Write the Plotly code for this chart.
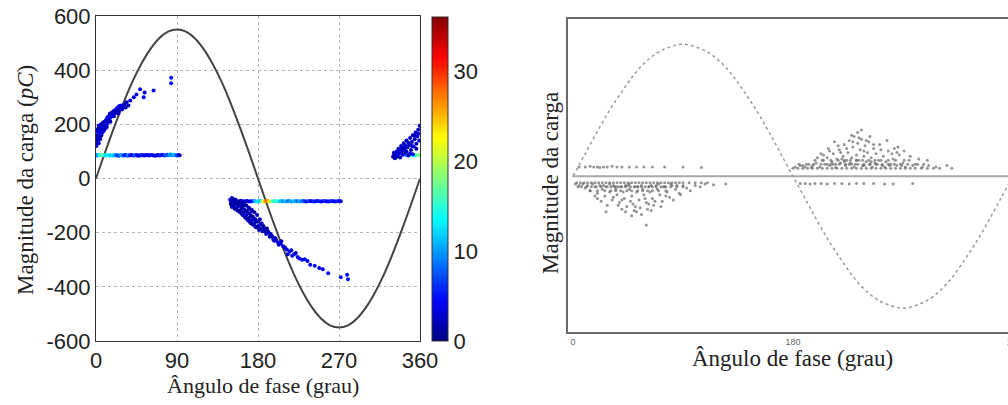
import plotly.graph_objects as go

W, H = 1008, 405

# ---------------- Left panel data (phase in degrees, charge in pC, count) ----------------
sine_phase = [0, 10, 20, 30, 40, 50, 60, 70, 80, 90, 100, 110, 120, 130, 140, 150, 160, 170, 180,
              190, 200, 210, 220, 230, 240, 250, 260, 270, 280, 290, 300, 310, 320, 330, 340, 350, 360]
sine_pc = [0, 96, 188, 275, 354, 421, 476, 517, 542, 550, 542, 517, 476, 421, 354, 275, 188, 96, 0,
           -96, -188, -275, -354, -421, -476, -517, -542, -550, -542, -517, -476, -421, -354, -275, -188, -96, 0]

# positive diagonal cluster (near 0-90 deg)
posdiag_phase = [0.5, 1, 1.5, 2, 2.5, 3, 3, 4, 4.5, 5, 5.5, 6, 6.5, 7, 7.5, 8, 8.5, 9, 10, 10.5, 11, 12, 12.5, 13,
                 14, 15, 15.5, 16, 17, 18, 19, 20, 21, 22, 23, 24, 25, 26, 27, 28, 30, 32, 34, 36, 38, 42, 45,
                 49, 53, 54, 64, 83.5, 83.5, 1, 2, 4, 6, 9, 11, 14,
                 0.5, 1, 2, 3, 5, 7, 9, 12, 16, 20, 25, 29, 33]
posdiag_pc = [140, 160, 175, 150, 185, 130, 195, 165, 145, 178, 200, 160, 185, 170, 205, 190, 175, 210, 195, 185,
              215, 200, 225, 210, 230, 215, 240, 225, 235, 245, 230, 250, 240, 255, 245, 262, 250, 268, 258, 270,
              265, 275, 282, 270, 288, 300, 310, 330, 300, 318, 325, 372, 352, 180, 135, 185, 175, 182, 198, 212,
              120, 128, 140, 170, 155, 190, 180, 190, 210, 230, 240, 255, 262]
posdiag_cnt = [3, 2, 4, 3, 2, 3, 2, 4, 3, 2, 3, 4, 2, 3, 2, 3, 4, 2, 3, 2, 3, 2, 4, 3, 2, 3, 2, 4, 3, 2, 3, 2, 3,
               4, 2, 3, 2, 3, 2, 4, 3, 2, 3, 2, 3, 4, 3, 4, 4, 3, 4, 5, 5, 2, 3, 2, 3, 2, 3, 2,
               2, 3, 2, 3, 2, 3, 2, 3, 2, 3, 2, 3, 2]

# positive horizontal band (~86 pC)
posband_phase = [0, 1.5, 3, 4.5, 6, 7.5, 9, 10.5, 12, 13.5, 15, 16.5, 18, 19.5, 21, 22.5, 24, 25.5, 27, 28.5,
                 30, 31.5, 33, 34.5, 36, 37.5, 39, 40.5, 42, 43.5, 45, 46.5, 48, 49.5, 51, 52.5, 54, 55.5, 57,
                 58.5, 60, 61.5, 63, 64.5, 66, 67.5, 69, 70.5, 72, 73.5, 75, 76.5, 78, 79.5, 81, 82.5, 84, 85.5,
                 87, 88.5, 90, 91.5, 93]
posband_pc = [86, 85, 87, 86, 85, 87, 86, 85, 86, 87, 85, 86, 84, 86, 87, 85, 86, 84, 86, 87,
              85, 86, 87, 84, 86, 85, 87, 86, 85, 86, 87, 84, 86, 85, 87, 86, 85, 86, 87,
              85, 86, 87, 86, 85, 84, 86, 87, 85, 86, 88, 86, 85, 87, 88, 86, 90, 87, 86,
              88, 86, 85, 87, 86]
posband_cnt = [6, 9, 12, 14, 16, 18, 15, 13, 12, 14, 13, 11, 13, 12, 10, 8, 7, 6, 9, 11,
               8, 6, 5, 7, 9, 6, 5, 4, 6, 8, 5, 4, 3, 5, 6, 4, 3, 4, 5, 3,
               4, 6, 4, 3, 5, 4, 3, 5, 6, 4, 5, 7, 8, 6, 9, 11, 8, 10, 12, 9,
               7, 5, 2]

# cluster at the end of the cycle (330-360 deg)
endclus_phase = [330, 331, 332, 333, 334, 335, 336, 337, 338, 339, 340, 341, 342, 343, 344, 345, 346, 347, 348,
                 349, 350, 351, 352, 353, 354, 355, 356, 357, 358, 359, 359.5, 352, 345, 338, 356, 349, 333, 342,
                 331, 336, 340, 344, 347, 351, 354, 358]
endclus_pc = [80, 95, 75, 88, 100, 82, 110, 92, 78, 120, 100, 88, 130, 108, 95, 140, 115, 85, 125,
              150, 105, 135, 160, 118, 145, 170, 128, 155, 180, 140, 195, 90, 100, 105, 110, 92, 78, 115,
              85, 98, 112, 120, 132, 120, 158, 165]
endclus_cnt = [2, 3, 2, 3, 2, 3, 2, 3, 2, 3, 2, 3, 2, 3, 2, 3, 2, 3, 2,
               3, 2, 3, 2, 3, 2, 3, 2, 3, 2, 3, 2, 3, 2, 3, 2, 3, 2, 3,
               2, 3, 2, 3, 2, 3, 2, 3]

endband_phase = [345, 347, 349, 351, 353, 355, 357, 359]
endband_pc = [86, 85, 87, 86, 85, 86, 87, 86]
endband_cnt = [10, 12, 14, 16, 15, 13, 17, 18]

# negative horizontal band (~-84 pC)
negband_phase = [150, 152, 154, 156, 158, 160, 162, 164, 166, 168, 170, 172, 174, 176, 178, 180, 182, 184,
                 186, 188, 190, 192, 194, 196, 198, 200, 202, 204, 206, 208, 210, 212, 214, 216, 218, 220,
                 222, 224, 226, 228, 230, 232, 234, 236, 238, 240, 242, 244, 246, 248, 250, 252, 254, 256,
                 258, 260, 262, 264, 266, 268, 270, 272]
negband_pc = [-84, -85, -83, -84, -86, -84, -83, -85, -84, -83, -85, -84, -84, -83, -85, -84, -83, -84,
              -85, -84, -83, -84, -85, -84, -83, -84, -85, -84, -83, -84, -85, -84, -83, -84, -85, -84,
              -83, -84, -85, -84, -83, -84, -85, -84, -83, -84, -85, -84, -83, -84, -85, -84, -83, -84,
              -85, -84, -83, -84, -85, -84, -83, -84]
negband_cnt = [3, 2, 4, 3, 2, 3, 4, 3, 2, 3, 4, 3, 5, 10, 12, 13, 11, 16,
               22, 26, 28, 24, 20, 17, 15, 14, 16, 12, 11, 9, 12, 10, 8, 11, 9, 12,
               10, 8, 11, 9, 8, 6, 5, 7, 5, 4, 6, 5, 4, 6, 5, 4, 6, 5,
               4, 5, 6, 4, 5, 6, 4, 3]

# negative diagonal cluster
negdiag_phase = [149, 150, 151, 152, 153, 154, 155, 156, 157, 158, 159, 160, 161, 162, 163, 164, 165, 166, 167,
                 168, 169, 170, 171, 172, 173, 174, 175, 176, 177, 178, 180, 181, 183, 185, 187, 189, 191, 193,
                 195, 197, 199, 202, 205, 208, 212, 215, 218, 220, 224, 229, 232, 238, 243, 258, 272, 279, 280,
                 152, 155, 158, 161, 164, 167, 170, 173,
                 150, 151, 152, 153, 154, 155, 156, 157, 158, 159, 160, 161, 162, 163, 164, 165, 166, 167, 168,
                 169, 170, 171, 172, 173, 174, 175, 176, 177, 178, 179, 180, 182, 183, 184, 186, 188, 190, 192,
                 194, 196, 198, 200, 203, 206, 210, 213, 217, 222, 226, 235, 248, 252]
negdiag_pc = [-78, -90, -72, -85, -100, -80, -95, -110, -88, -102, -120, -98, -115, -130, -105, -125, -140, -118,
              -135, -150, -128, -145, -160, -138, -155, -170, -148, -165, -178, -158, -175, -190, -170, -195,
              -185, -205, -195, -215, -210, -225, -220, -235, -240, -250, -262, -270, -285, -280, -290, -300,
              -298, -318, -322, -350, -365, -355, -372, -75, -78, -90, -82, -95, -100, -112, -120,
              -95, -105, -78, -88, -112, -80, -92, -118, -85, -100, -125, -90, -108, -135, -95, -115, -145,
              -100, -122, -155, -108, -130, -165, -115, -140, -170, -125, -150, -180, -135, -160, -150, -185,
              -165, -175, -195, -185, -200, -205, -215, -230, -225, -245, -232, -255, -280, -265, -275, -295,
              -305, -330, -335]
negdiag_cnt = [3, 2, 3, 2, 3, 2, 3, 2, 3, 2, 3, 2, 3, 2, 3, 2, 3, 2, 3, 2, 3, 2, 3, 2, 3, 2, 3, 2, 3, 2,
               3, 2, 3, 2, 3, 2, 3, 2, 3, 4, 3, 4, 3, 4, 4, 3, 4, 4, 4, 4, 5, 4, 5, 5, 5, 5, 5,
               2, 3, 2, 3, 2, 3, 2, 3,
               1, 2, 1, 2, 1, 2, 1, 2, 1, 2, 1, 2, 1, 2, 1, 2, 1, 2, 1, 2, 1, 2, 1, 2, 1, 2, 1, 2, 1, 2,
               1, 2, 1, 2, 1, 2, 1, 2, 3, 2, 3, 2, 3, 3, 3, 3, 4, 3, 4, 4, 4, 4]

# ---------------- Right panel data (phase in degrees, relative magnitude) ----------------
rsine_phase = sine_phase
rsine_val = [0, 0.17, 0.34, 0.5, 0.64, 0.77, 0.87, 0.94, 0.98, 1.0, 0.98, 0.94, 0.87, 0.77, 0.64, 0.5, 0.34,
             0.17, 0, -0.17, -0.34, -0.5, -0.64, -0.77, -0.87, -0.94, -0.98, -1.0, -0.98, -0.94, -0.87, -0.77,
             -0.64, -0.5, -0.34, -0.17, 0]

rpos_phase = [182, 186, 190, 193, 196, 199, 202, 204, 206, 208, 210, 212, 213, 215, 216, 218, 219, 221, 222, 223,
              224, 225, 226, 227, 228, 229, 230, 231, 232, 233, 234, 235, 236, 237, 238, 239, 240, 241, 242,
              243, 244, 246, 247, 248, 250, 251, 253, 254, 256, 258, 260, 262, 265, 267, 270, 272, 275, 278,
              282, 286, 291, 297, 210, 217, 228, 234, 240, 263, 265, 200, 205, 222, 245, 255, 230, 215, 195,
              188, 211, 226, 238, 249, 259, 269, 220, 232, 244,
              180, 184, 188, 192, 196, 200, 204, 208, 212, 216, 220, 224, 228, 232, 236, 240, 244, 248, 252,
              256, 260, 264, 268, 272, 276, 280, 285, 290, 295, 300, 310,
              185, 191, 197, 203, 208, 213, 218, 223, 228, 233, 238, 243, 248, 253, 258, 263, 268, 274, 280, 287,
              198, 205, 211, 217, 222, 227, 232, 237, 242, 247, 252, 258, 264, 271,
              203, 209, 214, 219, 224, 229, 233, 238, 243, 246, 252, 257, 261, 266, 271, 276, 283, 290, 306, 236]
rpos_val = [0.07, 0.08, 0.07, 0.09, 0.08, 0.10, 0.07, 0.12, 0.09, 0.14, 0.08, 0.11, 0.17, 0.09, 0.13, 0.20,
            0.10, 0.15, 0.24, 0.08, 0.12, 0.18, 0.27, 0.10, 0.14, 0.22, 0.30, 0.09, 0.16, 0.25, 0.12, 0.20,
            0.28, 0.08, 0.15, 0.23, 0.11, 0.18, 0.26, 0.09, 0.14, 0.21, 0.10, 0.17, 0.12, 0.24, 0.08, 0.15,
            0.11, 0.19, 0.09, 0.13, 0.08, 0.16, 0.10, 0.07, 0.12, 0.08, 0.09, 0.07, 0.08, 0.07, 0.19, 0.23,
            0.31, 0.29, 0.27, 0.21, 0.18, 0.14, 0.16, 0.11, 0.07, 0.07, 0.07, 0.065, 0.065,
            0.08, 0.09, 0.09, 0.08, 0.09, 0.08, 0.08, 0.13, 0.12, 0.11,
            0.06, 0.06, 0.06, 0.06, 0.06, 0.06, 0.06, 0.06, 0.06, 0.06, 0.06, 0.06, 0.06, 0.06, 0.06, 0.06,
            0.06, 0.06, 0.06, 0.06, 0.06, 0.06, 0.06, 0.06, 0.06, 0.06, 0.06, 0.06, 0.06, 0.06, 0.06,
            0.09, 0.09, 0.09, 0.09, 0.09, 0.09, 0.09, 0.09, 0.09, 0.09, 0.09, 0.09, 0.09, 0.09, 0.09, 0.09,
            0.09, 0.09, 0.09, 0.09,
            0.12, 0.12, 0.12, 0.12, 0.12, 0.12, 0.12, 0.12, 0.12, 0.12, 0.12, 0.12, 0.12, 0.12,
            0.17, 0.21, 0.26, 0.18, 0.21, 0.26, 0.33, 0.19, 0.30, 0.24, 0.20, 0.27, 0.17, 0.22, 0.19, 0.15,
            0.13, 0.12, 0.08, 0.35]

rneg_phase = [2, 5, 8, 10, 12, 14, 16, 18, 20, 22, 24, 26, 28, 30, 32, 33, 35, 36, 38, 39, 41, 42, 44, 45, 46,
              48, 49, 50, 51, 52, 54, 55, 56, 57, 58, 60, 61, 62, 63, 65, 66, 68, 69, 71, 73, 75, 77, 79, 81,
              84, 87, 90, 93, 96, 100, 104, 108, 115, 125, 60, 20, 40, 52, 46, 30, 70, 80,
              25, 35, 43, 53, 64, 74, 85,
              3, 6, 9, 12, 15, 18, 21, 24, 27, 30, 33, 36, 39, 42, 45, 48, 51, 54, 57, 60, 63, 66, 69, 72,
              75, 78, 81, 84, 87, 90, 95, 100, 105, 110,
              4, 7, 11, 15, 19, 23, 27, 31, 34, 37, 40, 43, 47, 50, 53, 56, 59, 62, 65, 68, 72, 76, 80, 85, 90,
              14, 20, 26, 31, 35, 39, 44, 48, 53, 57, 61, 65, 70, 76,
              18, 23, 28, 33, 37, 43, 47, 51, 56, 59, 64, 67, 72, 76, 82, 88, 27, 48, 40, 62]
rneg_val = [-0.06, -0.07, -0.06, -0.09, -0.07, -0.11, -0.06, -0.08, -0.13, -0.07, -0.10, -0.15, -0.08, -0.12,
            -0.18, -0.07, -0.10, -0.14, -0.20, -0.08, -0.12, -0.17, -0.23, -0.07, -0.10, -0.15, -0.21, -0.26,
            -0.08, -0.12, -0.18, -0.24, -0.07, -0.10, -0.14, -0.20, -0.25, -0.08, -0.12, -0.17, -0.22, -0.07,
            -0.10, -0.14, -0.19, -0.08, -0.12, -0.16, -0.07, -0.10, -0.13, -0.07, -0.09, -0.11, -0.07, -0.08,
            -0.06, -0.065, -0.06, -0.37, -0.17, -0.25, -0.27, -0.06, -0.06, -0.06, -0.06,
            -0.07, -0.08, -0.07, -0.08, -0.07, -0.08, -0.07,
            -0.05, -0.05, -0.05, -0.05, -0.05, -0.05, -0.05, -0.05, -0.05, -0.05, -0.05, -0.05, -0.05, -0.05,
            -0.05, -0.05, -0.05, -0.05, -0.05, -0.05, -0.05, -0.05, -0.05, -0.05, -0.05, -0.05, -0.05, -0.05,
            -0.05, -0.05, -0.05, -0.05, -0.05, -0.05,
            -0.08, -0.08, -0.08, -0.08, -0.08, -0.08, -0.08, -0.08, -0.08, -0.08, -0.08, -0.08, -0.08, -0.08,
            -0.08, -0.08, -0.08, -0.08, -0.08, -0.08, -0.08, -0.08, -0.08, -0.08, -0.08,
            -0.11, -0.11, -0.11, -0.11, -0.11, -0.11, -0.11, -0.11, -0.11, -0.11, -0.11, -0.11, -0.11, -0.11,
            -0.15, -0.19, -0.22, -0.16, -0.22, -0.27, -0.19, -0.23, -0.29, -0.17, -0.26, -0.19, -0.23, -0.15,
            -0.18, -0.14, -0.27, -0.30, -0.18, -0.21]

rposrow_phase = [5, 10, 14, 17, 20, 22, 25, 28, 32, 36, 40, 46, 52, 58, 65, 75, 90, 105]
rposrow_val = [0.07, 0.07, 0.075, 0.07, 0.07, 0.065, 0.07, 0.07, 0.075, 0.07, 0.07, 0.07, 0.07, 0.07, 0.07,
               0.07, 0.07, 0.065]
rnegrow_phase = [186, 190, 194, 198, 203, 208, 214, 220, 226, 232, 238, 246, 255, 262, 278]
rnegrow_val = [-0.055, -0.055, -0.06, -0.055, -0.055, -0.06, -0.055, -0.055, -0.06, -0.055, -0.055, -0.055,
               -0.06, -0.06, -0.055]

left_xticks = [0, 90, 180, 270, 360]
left_yticks = [-600, -400, -200, 0, 200, 400, 600]
cbar_ticks = [0, 10, 20, 30]
right_xticks = [0, 180]

# ---------------- Figure ----------------
SANS = "Liberation Sans, Arial, sans-serif"
SERIF = "Liberation Serif, Times New Roman, serif"

jet = [[0.0, "rgb(0,0,128)"], [0.125, "rgb(0,0,255)"], [0.375, "rgb(0,255,255)"],
       [0.625, "rgb(255,255,0)"], [0.875, "rgb(255,0,0)"], [1.0, "rgb(128,0,0)"]]

fig = go.Figure()

fig.add_trace(go.Scatter(x=sine_phase, y=sine_pc, mode="lines", line=dict(color="#444", width=2, shape="spline"),
                         xaxis="x", yaxis="y", showlegend=False, hoverinfo="skip"))

for px_, py_, pc_ in [(posband_phase, posband_pc, posband_cnt), (negband_phase, negband_pc, negband_cnt),
                      (endband_phase, endband_pc, endband_cnt),
                      (posdiag_phase, posdiag_pc, posdiag_cnt), (endclus_phase, endclus_pc, endclus_cnt),
                      (negdiag_phase, negdiag_pc, negdiag_cnt)]:
    fig.add_trace(go.Scatter(x=px_, y=py_, mode="markers", xaxis="x", yaxis="y", showlegend=False,
                             marker=dict(size=4, color=pc_, coloraxis="coloraxis", line=dict(width=0))))

# right panel
fig.add_trace(go.Scatter(x=rsine_phase, y=rsine_val, mode="lines", xaxis="x2", yaxis="y2", showlegend=False,
                         line=dict(color="#9a9a9a", width=1.5, dash="dot", shape="spline"), hoverinfo="skip"))
for px_, py_ in [(rpos_phase, rpos_val), (rneg_phase, rneg_val), (rposrow_phase, rposrow_val),
                 (rnegrow_phase, rnegrow_val)]:
    fig.add_trace(go.Scatter(x=px_, y=py_, mode="markers", xaxis="x2", yaxis="y2", showlegend=False,
                             marker=dict(size=3, color="#666", opacity=0.7, line=dict(width=0))))

fig.add_shape(type="line", xref="x2 domain", yref="y2", x0=0.01, x1=1, y0=0, y1=0,
              line=dict(color="#a8a8a8", width=2))

# layout geometry (pixels -> paper)
Lx0, Lx1 = 96 / W, 420 / W
Ly0, Ly1 = 1 - 341 / H, 1 - 16 / H
Rx0, Rx1 = 568 / W, 1.0
Ry0, Ry1 = 1 - 332 / H, 1 - 19 / H

fig.update_layout(
    width=W, height=H, margin=dict(l=0, r=0, t=0, b=0),
    paper_bgcolor="white", plot_bgcolor="white",
    font=dict(family=SANS, color="#222"),
    xaxis=dict(domain=[Lx0, Lx1], range=[0, 360], tickvals=left_xticks, ticktext=[str(v) for v in left_xticks],
               showgrid=True, gridcolor="#b5b5b5", griddash="dot", gridwidth=1, zeroline=False,
               showline=True, linecolor="#333", linewidth=1, mirror=True, ticks="",
               tickfont=dict(size=22, family=SANS, color="#222"), automargin=False, anchor="y"),
    yaxis=dict(domain=[Ly0, Ly1], range=[-600, 600], tickvals=left_yticks, ticktext=[str(v) for v in left_yticks],
               showgrid=True, gridcolor="#b5b5b5", griddash="dot", gridwidth=1, zeroline=False,
               showline=True, linecolor="#333", linewidth=1, mirror=True, ticks="",
               tickfont=dict(size=22, family=SANS, color="#222"), automargin=False, anchor="x"),
    xaxis2=dict(domain=[Rx0, Rx1], range=[-4.1, 356], tickvals=right_xticks, ticktext=[str(v) for v in right_xticks],
                showgrid=False, zeroline=False, showline=True, linecolor="#6a6a6a", linewidth=2, mirror=True,
                ticks="", tickfont=dict(size=9, family=SANS, color="#666"), automargin=False, anchor="y2"),
    yaxis2=dict(domain=[Ry0, Ry1], range=[-1.18, 1.19], showticklabels=False, showgrid=False, zeroline=False,
                showline=True, linecolor="#6a6a6a", linewidth=2, mirror=False, ticks="", automargin=False,
                anchor="x2"),
    coloraxis=dict(colorscale=jet, cmin=0, cmax=36,
                   colorbar=dict(x=432 / W, xanchor="left", xpad=0, ypad=0, y=Ly0, yanchor="bottom",
                                 len=(340 - 16) / H, lenmode="fraction", thickness=16, thicknessmode="pixels",
                                 outlinewidth=1, outlinecolor="#333", tickvals=cbar_ticks, ticks="",
                                 tickfont=dict(size=22, family=SANS, color="#222"))),
)

annots = [
    dict(text="Ângulo de fase (grau)", x=263 / W, y=1 - 385 / H, font=dict(size=22, family=SERIF, color="#222")),
    dict(text="Magnitude da carga (<i>pC</i>)", x=25 / W, y=1 - 180 / H, textangle=-90,
         font=dict(size=23, family=SERIF, color="#222")),
    dict(text="Ângulo de fase (grau)", x=792 / W, y=1 - 358 / H, font=dict(size=23, family=SERIF, color="#222")),
    dict(text="Magnitude da carga", x=550 / W, y=1 - 183 / H, textangle=-90,
         font=dict(size=23, family=SERIF, color="#222")),
    dict(text="360", x=1014 / W, y=1 - 343 / H, font=dict(size=9, family=SANS, color="#666")),
]
for a in annots:
    fig.add_annotation(xref="paper", yref="paper", showarrow=False, xanchor="center", yanchor="middle", **a)

fig.write_html("out.html")
